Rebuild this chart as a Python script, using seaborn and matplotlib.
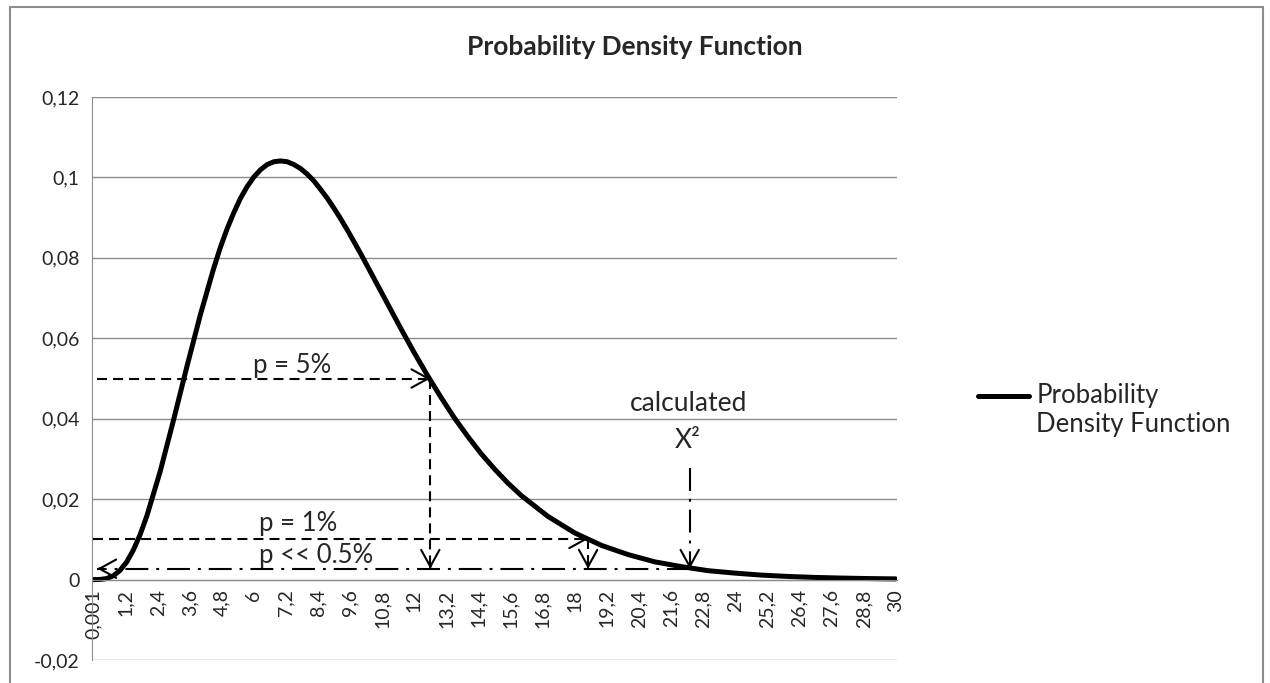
import matplotlib
matplotlib.use("Agg")
from matplotlib import pyplot as plt
from matplotlib.ticker import MultipleLocator
from matplotlib.lines import Line2D
import seaborn as sns

# density curve
x_vals = [0.001, 0.25, 0.5, 0.75, 1.0, 1.25, 1.5, 1.75, 2.0, 2.5, 3.0, 3.5, 4.0, 4.5,
          4.75, 5.0, 5.25, 5.5, 5.75, 6.0, 6.25, 6.5, 6.75, 7.0, 7.25, 7.5, 7.75,
          8.0, 8.25, 8.5, 8.75, 9.0, 9.25, 9.5, 10.0, 10.5, 11.0, 11.5, 12.0, 12.5,
          13.0, 13.5, 14.0, 14.5, 15.0, 15.5, 16.0, 17.0, 18.0, 19.0, 20.0, 21.0,
          22.0, 23.0, 24.0, 25.0, 26.0, 27.0, 28.0, 29.0, 30.0]
pdf_vals = [0.0, 0.00003, 0.00026, 0.00095, 0.0023, 0.0044, 0.0074, 0.0112, 0.0158,
            0.0269, 0.0397, 0.0530, 0.0658, 0.0774, 0.0826, 0.0872, 0.0912, 0.0948,
            0.0977, 0.1001, 0.1019, 0.1032, 0.1039, 0.1041, 0.1039, 0.1032, 0.1022,
            0.1008, 0.0991, 0.0970, 0.0948, 0.0923, 0.0897, 0.0869, 0.0810, 0.0748,
            0.0686, 0.0624, 0.0564, 0.0507, 0.0453, 0.0402, 0.0356, 0.0313, 0.0275,
            0.0240, 0.0209, 0.0157, 0.0116, 0.0085, 0.0062, 0.0044, 0.0032, 0.0022,
            0.0016, 0.0011, 0.00077, 0.00053, 0.00037, 0.00025, 0.00017]

x_ticks = [0.001, 1.2, 2.4, 3.6, 4.8, 6, 7.2, 8.4, 9.6, 10.8, 12, 13.2, 14.4, 15.6,
           16.8, 18, 19.2, 20.4, 21.6, 22.8, 24, 25.2, 26.4, 27.6, 28.8, 30]
x_tick_labels = ["0,001", "1,2", "2,4", "3,6", "4,8", "6", "7,2", "8,4", "9,6", "10,8",
                 "12", "13,2", "14,4", "15,6", "16,8", "18", "19,2", "20,4", "21,6",
                 "22,8", "24", "25,2", "26,4", "27,6", "28,8", "30"]
y_ticks = [-0.02, 0, 0.02, 0.04, 0.06, 0.08, 0.1, 0.12]
y_tick_labels = ["-0,02", "0", "0,02", "0,04", "0,06", "0,08", "0,1", "0,12"]

# annotation points
p5_x, p5_y = 12.6, 0.05
p1_x, p1_y = 18.5, 0.0101
low_y = 0.0027
calc_x, calc_top = 22.3, 0.0278

sns.set_style("white")
plt.rcParams['font.family'] = ['Lato', 'DejaVu Sans']

grey = '#8c8c8c'
fig = plt.figure(figsize=(12.7, 6.83), dpi=100)
ax = fig.add_axes([92 / 1270, 1 - 660 / 683, 805 / 1270, 563 / 683])

sns.lineplot(x=x_vals, y=pdf_vals, color='black', linewidth=3.6,
             label='Probability\nDensity Function', ax=ax,
             solid_capstyle='round', solid_joinstyle='round')

ax.set_xlim(-0.05, 30.05)
ax.set_ylim(-0.02, 0.12)
ax.set_yticks(y_ticks)
ax.set_yticklabels(y_tick_labels)
ax.set_xticks(x_ticks)
ax.set_xticklabels(x_tick_labels)
ax.xaxis.set_minor_locator(MultipleLocator(0.1))
ax.yaxis.grid(True, color=grey, linewidth=1)
ax.set_axisbelow(True)

for s in ['top', 'right']:
    ax.spines[s].set_visible(False)
ax.spines['left'].set_color(grey)
ax.spines['bottom'].set_color(grey)
ax.spines['bottom'].set_position(('data', 0))
ax.tick_params(axis='y', length=5, color=grey, labelsize=14, pad=4)
ax.tick_params(axis='x', which='both', length=4, color=grey, labelsize=14, pad=3,
               labelrotation=90)

lw = 1.5
dash = (0, (4.8, 2.9))
dashdot = (0, (11, 3.8, 1.4, 3.8))
head = dict(arrowstyle='->, head_length=0.4, head_width=0.22', color='black',
            lw=lw, mutation_scale=30, shrinkA=0, shrinkB=0)


def arrow_head(x, y, dx, dy):
    ax.annotate('', xy=(x, y), xytext=(dx, dy), textcoords='offset points',
                arrowprops=head)


# p = 5%
ax.plot([0.15, p5_x], [p5_y, p5_y], color='black', lw=lw, ls=dash)
arrow_head(p5_x, p5_y, -2, 0)
ax.plot([p5_x, p5_x], [p5_y, low_y], color='black', lw=lw, ls=dash)
arrow_head(p5_x, low_y, 0, 2)
# p = 1%
ax.plot([0.0, p1_x], [p1_y, p1_y], color='black', lw=lw, ls=dash)
arrow_head(p1_x, p1_y, -2, 0)
ax.plot([p1_x, p1_x], [p1_y, low_y], color='black', lw=lw, ls=dash)
arrow_head(p1_x, low_y, 0, 2)
# p << 0.5%
ax.plot([calc_x, 0.15], [low_y, low_y], color='black', lw=lw, ls=dashdot)
arrow_head(0.15, low_y, 2, 0)
ax.plot([calc_x, calc_x], [calc_top, low_y], color='black', lw=lw, ls=dashdot)
arrow_head(calc_x, low_y, 0, 2)

fs = 18.5
ax.text(7.44, 0.0514, 'p = 5%', ha='center', va='baseline', fontsize=fs)
ax.text(7.67, 0.0122, 'p = 1%', ha='center', va='baseline', fontsize=fs)
ax.text(8.33, 0.0040, 'p << 0.5%', ha='center', va='baseline', fontsize=fs)
ax.text(22.24, 0.0420, 'calculated', ha='center', va='baseline', fontsize=fs + 0.5)
ax.text(22.24, 0.0328, 'X²', ha='center', va='baseline', fontsize=fs + 0.5)

fig.suptitle('Probability Density Function', x=0.5, y=1 - 47 / 683, va='center',
             fontsize=19, fontweight='bold')

leg = ax.legend(loc='center left', bbox_to_anchor=(978 / 1270, 1 - 410 / 683),
                bbox_transform=fig.transFigure, frameon=False, fontsize=18.5,
                handlelength=2.0, handletextpad=0.27, borderpad=0, borderaxespad=0,
                labelspacing=0.6)
# put the legend line next to the first text line, as in the original
leg_line = leg.legend_handles[0]
leg_line.set_ydata([v + 11 for v in leg_line.get_ydata()])

# chart border
for xs, ys in [([10, 10], [683, 7]), ([10, 1263], [7, 7]), ([1263, 1263], [7, 683])]:
    fig.add_artist(Line2D([x / 1270 for x in xs], [1 - y / 683 for y in ys],
                          color=grey, lw=1.5))

plt.savefig('out.png', dpi=100)
